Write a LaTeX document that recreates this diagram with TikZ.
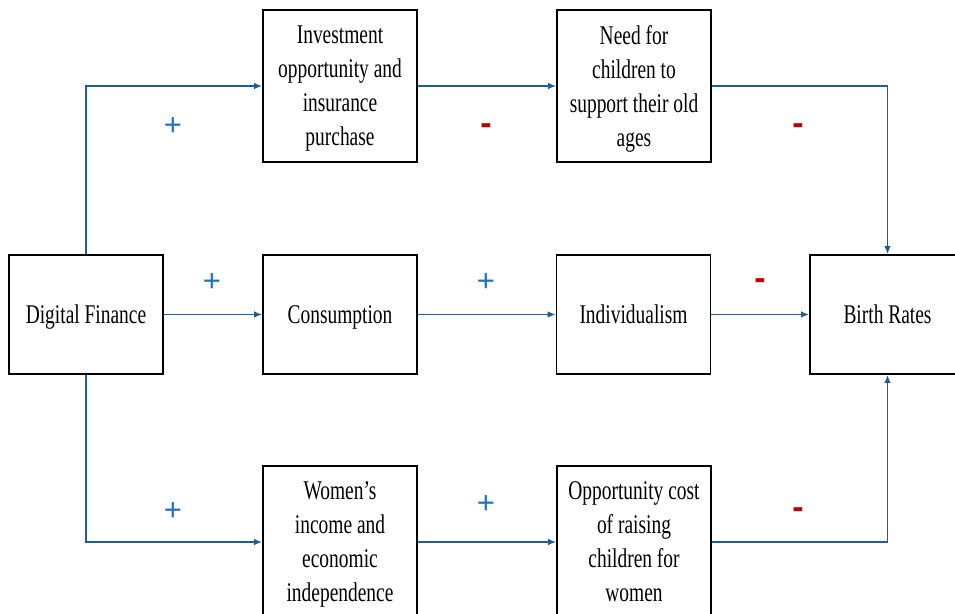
\documentclass[tikz,border=0pt]{standalone}
\usepackage{fontspec}
\setmainfont{Liberation Serif}[FakeStretch=0.72]
\newfontfamily\signfont{Liberation Sans}
\usetikzlibrary{arrows.meta}
\definecolor{linkblue}{HTML}{1F5F99}
\definecolor{plusblue}{HTML}{2070C4}
\definecolor{minusred}{HTML}{C00000}
\tikzset{
  box/.style={draw=black, line width=1.6pt, fill=white, align=center, inner sep=0pt,
    text depth=0pt, minimum width=154pt, font=\fontsize{27}{34}\selectfont},
  tallbox/.style={box, minimum height=152pt},
  midbox/.style={box, minimum height=119pt},
  link/.style={draw=linkblue, line width=1.8pt, -{Latex[length=8pt,width=6.5pt]}},
  plus/.style={text=plusblue, inner sep=0pt, font=\signfont\fontsize{31}{31}\selectfont},
  minus/.style={text=minusred, inner sep=0pt, font=\signfont\bfseries\fontsize{34}{34}\selectfont}
}
\begin{document}
\begin{tikzpicture}[x=1pt,y=-1pt]
\useasboundingbox (0,0) rectangle (955,613);
\node[tallbox] (inv) at (340,86) {Investment\\opportunity and\\insurance\\purchase};
\node[tallbox] (need) at (634,86) {Need for\\children to\\support their old\\ages};
\node[midbox] (df) at (86,314.5) {Digital Finance};
\node[midbox] (cons) at (340,314.5) {Consumption};
\node[midbox] (ind) at (633.5,314.5) {Individualism};
\node[midbox, minimum width=155pt] (br) at (887.5,314.5) {Birth Rates};
\node[tallbox] (wom) at (340,542) {Women’s\\income and\\economic\\independence};
\node[tallbox] (opp) at (634,542) {Opportunity cost\\of raising\\children for\\women};

\draw[link] (df.north) |- (inv.west);
\draw[link] (inv.east) -- (need.west);
\draw[link] (need.east) -| (br.north);
\draw[link] (df.east) -- (cons.west);
\draw[link] (cons.east) -- (ind.west);
\draw[link] (ind.east) -- (br.west);
\draw[link] (df.south) |- (wom.west);
\draw[link] (wom.east) -- (opp.west);
\draw[link] (opp.east) -| (br.south);

\node[plus] (s1) at (173,127) {+};
\node[minus] (s2) at (486,129) {-};
\node[minus] (s3) at (798,129) {-};
\node[plus] (s4) at (212,283) {+};
\node[plus] (s5) at (486,283) {+};
\node[minus] (s6) at (760,284) {-};
\node[plus] (s7) at (173,512) {+};
\node[plus] (s8) at (486,505) {+};
\node[minus] (s9) at (798,513) {-};
\end{tikzpicture}
\end{document}
